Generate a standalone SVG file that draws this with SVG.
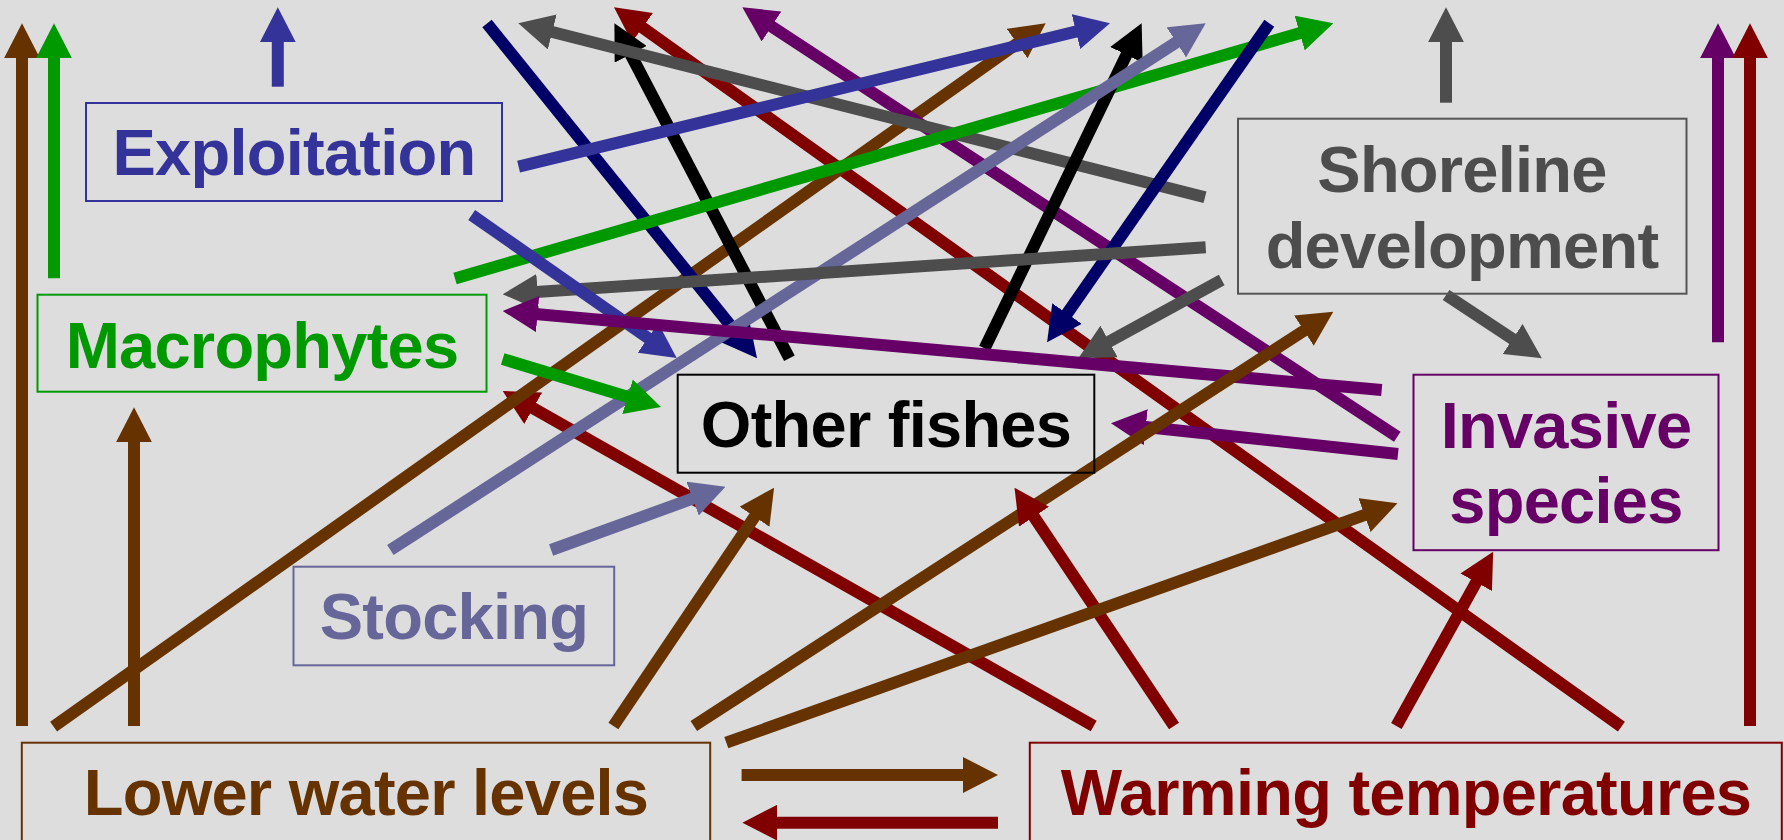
<svg xmlns="http://www.w3.org/2000/svg" width="1784" height="840" viewBox="0 0 1784 840">
<style>
.bg{fill:#dddddd}
.box{fill:none;stroke-width:2}
.lbl{font-family:"Liberation Sans",Arial,sans-serif;font-weight:bold;font-size:65px;text-anchor:middle;letter-spacing:-0.75px}
line{stroke-width:12;fill:none}
.br{stroke:#663300}.gr{stroke:#009900}.bl{stroke:#333399}.nv{stroke:#000066}.bk{stroke:#000000}
.gy{stroke:#4d4d4d}.rd{stroke:#800000}.pu{stroke:#660066}.sl{stroke:#666699}
</style>
<defs>
<marker id="m-br" markerUnits="userSpaceOnUse" markerWidth="35" markerHeight="36" refX="5" refY="18" orient="auto" viewBox="0 0 35 36"><path d="M0,0 L35,18 L0,36 z" fill="#663300"/></marker>
<marker id="m-gr" markerUnits="userSpaceOnUse" markerWidth="35" markerHeight="36" refX="5" refY="18" orient="auto" viewBox="0 0 35 36"><path d="M0,0 L35,18 L0,36 z" fill="#009900"/></marker>
<marker id="m-bl" markerUnits="userSpaceOnUse" markerWidth="35" markerHeight="36" refX="5" refY="18" orient="auto" viewBox="0 0 35 36"><path d="M0,0 L35,18 L0,36 z" fill="#333399"/></marker>
<marker id="m-nv" markerUnits="userSpaceOnUse" markerWidth="35" markerHeight="36" refX="5" refY="18" orient="auto" viewBox="0 0 35 36"><path d="M0,0 L35,18 L0,36 z" fill="#000066"/></marker>
<marker id="m-bk" markerUnits="userSpaceOnUse" markerWidth="35" markerHeight="36" refX="5" refY="18" orient="auto" viewBox="0 0 35 36"><path d="M0,0 L35,18 L0,36 z" fill="#000000"/></marker>
<marker id="m-gy" markerUnits="userSpaceOnUse" markerWidth="35" markerHeight="36" refX="5" refY="18" orient="auto" viewBox="0 0 35 36"><path d="M0,0 L35,18 L0,36 z" fill="#4d4d4d"/></marker>
<marker id="m-rd" markerUnits="userSpaceOnUse" markerWidth="35" markerHeight="36" refX="5" refY="18" orient="auto" viewBox="0 0 35 36"><path d="M0,0 L35,18 L0,36 z" fill="#800000"/></marker>
<marker id="m-pu" markerUnits="userSpaceOnUse" markerWidth="35" markerHeight="36" refX="5" refY="18" orient="auto" viewBox="0 0 35 36"><path d="M0,0 L35,18 L0,36 z" fill="#660066"/></marker>
<marker id="m-sl" markerUnits="userSpaceOnUse" markerWidth="35" markerHeight="36" refX="5" refY="18" orient="auto" viewBox="0 0 35 36"><path d="M0,0 L35,18 L0,36 z" fill="#666699"/></marker>
</defs>
<rect class="bg" x="0" y="0" width="1784" height="840"/>
<g id="connectors">
<line class="br" x1="22" y1="726" x2="22" y2="53.3" marker-end="url(#m-br)"/>
<line class="gr" x1="54" y1="278.3" x2="54" y2="53.3" marker-end="url(#m-gr)"/>
<line class="bl" x1="277.8" y1="86.7" x2="277.8" y2="37.3" marker-end="url(#m-bl)"/>
<line class="gy" x1="1446" y1="102.7" x2="1446" y2="37.3" marker-end="url(#m-gy)"/>
<line class="pu" x1="1718" y1="342.3" x2="1718" y2="53.3" marker-end="url(#m-pu)"/>
<line class="rd" x1="1750" y1="726" x2="1750" y2="53.3" marker-end="url(#m-rd)"/>
<line class="br" x1="134" y1="726" x2="134" y2="437.3" marker-end="url(#m-br)"/>
<line class="rd" x1="1621.4" y1="726.7" x2="638.4" y2="24.7" marker-end="url(#m-rd)"/>
<line class="rd" x1="1093.7" y1="726" x2="528.8" y2="405.8" marker-end="url(#m-rd)"/>
<line class="br" x1="53.6" y1="726.7" x2="1021.2" y2="40.65" marker-end="url(#m-br)"/>
<line class="nv" x1="487" y1="23.5" x2="738.2" y2="334.95" marker-end="url(#m-nv)"/>
<line class="bk" x1="789.4" y1="358.3" x2="628.3" y2="49.9" marker-end="url(#m-bk)"/>
<line class="pu" x1="1397.3" y1="436.7" x2="767.4" y2="23.75" marker-end="url(#m-pu)"/>
<line class="gy" x1="1205" y1="197.3" x2="547.4" y2="30.7" marker-end="url(#m-gy)"/>
<line class="gr" x1="455" y1="278.5" x2="1304.5" y2="31.7" marker-end="url(#m-gr)"/>
<line class="bk" x1="984.6" y1="348.3" x2="1128.6" y2="50.3" marker-end="url(#m-bk)"/>
<line class="sl" x1="390.4" y1="550" x2="1180.5" y2="39.6" marker-end="url(#m-sl)"/>
<line class="nv" x1="1269.3" y1="23.3" x2="1064.2" y2="317.7" marker-end="url(#m-nv)"/>
<line class="bl" x1="518.6" y1="166.7" x2="1080.8" y2="30.4" marker-end="url(#m-bl)"/>
<line class="gy" x1="1205.7" y1="247.3" x2="532.6" y2="292.3" marker-end="url(#m-gy)"/>
<line class="bl" x1="471.7" y1="215" x2="652.1" y2="340.8" marker-end="url(#m-bl)"/>
<line class="gy" x1="1221.7" y1="280" x2="1104.7" y2="343.9" marker-end="url(#m-gy)"/>
<line class="gy" x1="1446.1" y1="295" x2="1516.8" y2="341.7" marker-end="url(#m-gy)"/>
<line class="pu" x1="1381.7" y1="390" x2="532.6" y2="313.7" marker-end="url(#m-pu)"/>
<line class="gr" x1="502.7" y1="359" x2="632.3" y2="398.3" marker-end="url(#m-gr)"/>
<line class="pu" x1="1398" y1="454" x2="1140.8" y2="426.5" marker-end="url(#m-pu)"/>
<line class="br" x1="693.8" y1="726" x2="1308.1" y2="328" marker-end="url(#m-br)"/>
<line class="br" x1="613.4" y1="726" x2="757.3" y2="512.6" marker-end="url(#m-br)"/>
<line class="rd" x1="1174" y1="726" x2="1031.2" y2="512.6" marker-end="url(#m-rd)"/>
<line class="br" x1="726.3" y1="742.7" x2="1369.2" y2="513.4" marker-end="url(#m-br)"/>
<line class="rd" x1="1396.4" y1="726" x2="1478.6" y2="577.9" marker-end="url(#m-rd)"/>
<line class="sl" x1="551.1" y1="550" x2="697.3" y2="496.9" marker-end="url(#m-sl)"/>
<line class="br" x1="741.6" y1="775" x2="968" y2="775" marker-end="url(#m-br)"/>
<line class="rd" x1="998" y1="822.7" x2="772.4" y2="822.7" marker-end="url(#m-rd)"/>
</g>
<g id="exploitation">
<rect class="box" x="86" y="103" width="416" height="98" stroke="#333399"/>
<text class="lbl" x="294" y="175" fill="#333399">Exploitation</text>
</g>
<g id="macrophytes">
<rect class="box" x="37.5" y="294.7" width="449" height="97" stroke="#009900"/>
<text class="lbl" x="262" y="367.7" fill="#009900">Macrophytes</text>
</g>
<g id="shoreline">
<rect class="box" x="1238" y="118.7" width="448.5" height="175" stroke="#555555"/>
<text class="lbl" x="1462" y="191.7" fill="#4d4d4d">Shoreline</text>
<text class="lbl" x="1462" y="267.7" fill="#4d4d4d">development</text>
</g>
<g id="invasive">
<rect class="box" x="1413.5" y="374.7" width="305" height="175.5" stroke="#660066"/>
<text class="lbl" x="1566" y="448.3" fill="#660066">Invasive</text>
<text class="lbl" x="1566" y="523.3" fill="#660066">species</text>
</g>
<g id="other-fishes">
<rect class="box" x="677.7" y="374.7" width="416.6" height="98" stroke="#000000"/>
<text class="lbl" x="886" y="447.3" fill="#000000">Other fishes</text>
</g>
<g id="stocking">
<rect class="box" x="293.5" y="566.7" width="320.7" height="98.6" stroke="#666699"/>
<text class="lbl" x="454" y="639" fill="#666699">Stocking</text>
</g>
<g id="lower-water">
<rect class="box" x="21.8" y="742.7" width="688.4" height="120" stroke="#663300"/>
<text class="lbl" x="366" y="815.3" fill="#663300">Lower water levels</text>
</g>
<g id="warming">
<rect class="box" x="1029.8" y="742.7" width="752" height="120" stroke="#800000"/>
<text class="lbl" x="1406" y="815" fill="#800000">Warming temperatures</text>
</g>
</svg>
